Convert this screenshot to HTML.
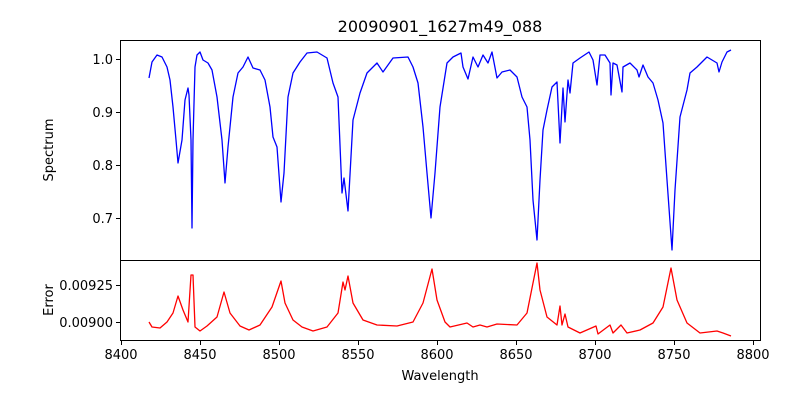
<!DOCTYPE html>
<html><head><style>body{margin:0;background:#fff}svg{display:block;font-family:"DejaVu Sans","Liberation Sans",sans-serif}</style></head><body>
<svg width="800" height="400" xmlns="http://www.w3.org/2000/svg">
<rect width="800" height="400" fill="#fff"/>
<text x="440" y="32" font-size="16" text-anchor="middle">20090901_1627m49_088</text>
<polyline fill="none" stroke="#0000ff" stroke-width="1.3" stroke-linejoin="round" points="149,78 152,62 157,55 162,57 167,67 170,80 173,107 176,140 178,163 182,140 185,100 188,88 189,95 191,140 192,228 193,140 195,67 197,55 200,52 203,60 208,63 212,70 217,97 222,140 225,183 228,147 233,97 238,73 243,67 248,57 253,68 260,70 265,80 270,107 273,137 277,147 281,202 284,173 288,97 293,73 300,62 307,53 317,52 327,58 333,83 338,97 342,193 344,178 348,211 353,120 360,93 367,73 377,63 383,72 393,58 408,57 413,67 418,83 423,127 427,173 431,218 435,173 440,107 447,63 453,57 461,53 463,67 468,79 473,57 478,67 483,55 488,63 492,52 497,78 502,72 510,70 517,77 522,97 527,107 530,140 533,200 537,240 540,180 543,130 547,110 552,87 557,82 560,143 563,88 565,122 568,80 570,93 573,63 580,58 589,52 593,60 597,85 600,55 605,55 610,63 611,95 613,63 617,65 622,92 623,67 630,63 637,70 639,77 643,65 648,77 653,83 658,100 663,123 667,180 672,250 675,190 680,117 687,90 690,73 697,67 707,57 712,60 717,63 719,72 722,62 727,52 731,50"/>
<polyline fill="none" stroke="#ff0000" stroke-width="1.3" stroke-linejoin="round" points="149,322 152,327 160,328 167,322 173,313 178,296 183,310 188,322 191,275 193,275 195,327 200,331 207,326 217,317 224,292 230,313 240,326 249,330 260,325 272,307 281,281 285,303 293,320 302,327 313,331 327,327 338,313 343,282 345,290 348,276 353,303 363,320 377,325 397,326 413,322 423,303 432,269 437,300 445,322 450,327 467,323 473,327 480,325 487,327 497,324 517,325 527,313 533,283 537,263 540,290 547,317 557,325 560,306 562,325 565,314 568,327 580,333 596,326 598,334 610,325 613,333 621,325 627,333 640,330 653,323 663,307 671,268 677,300 687,323 700,333 717,331 723,333 731,336"/>
<rect x="120.5" y="40.5" width="640" height="220" fill="none" stroke="#000" stroke-width="1"/>
<rect x="120.5" y="260.5" width="640" height="80" fill="none" stroke="#000" stroke-width="1"/>
<g stroke="#000" stroke-width="1">
<line x1="116" x2="120" y1="59.5" y2="59.5"/><line x1="116" x2="120" y1="112.5" y2="112.5"/><line x1="116" x2="120" y1="165.5" y2="165.5"/><line x1="116" x2="120" y1="218.5" y2="218.5"/>
<line x1="116" x2="120" y1="285.5" y2="285.5"/><line x1="116" x2="120" y1="322.5" y2="322.5"/>
<line x1="121.5" x2="121.5" y1="341" y2="345"/><line x1="200.5" x2="200.5" y1="341" y2="345"/><line x1="279.5" x2="279.5" y1="341" y2="345"/><line x1="358.5" x2="358.5" y1="341" y2="345"/><line x1="437.5" x2="437.5" y1="341" y2="345"/><line x1="516.5" x2="516.5" y1="341" y2="345"/><line x1="595.5" x2="595.5" y1="341" y2="345"/><line x1="674.5" x2="674.5" y1="341" y2="345"/><line x1="753.5" x2="753.5" y1="341" y2="345"/>
</g>
<g font-size="13" text-anchor="end">
<text x="113" y="64">1.0</text><text x="113" y="117">0.9</text><text x="113" y="170">0.8</text><text x="113" y="223">0.7</text>
<text x="113" y="290">0.00925</text><text x="113" y="327">0.00900</text>
</g>
<g font-size="13" text-anchor="middle">
<text x="121" y="359">8400</text><text x="200" y="359">8450</text><text x="279" y="359">8500</text><text x="358" y="359">8550</text><text x="437" y="359">8600</text><text x="516" y="359">8650</text><text x="595" y="359">8700</text><text x="674" y="359">8750</text><text x="753" y="359">8800</text>
<text x="440" y="380">Wavelength</text>
<text transform="translate(53,150) rotate(-90)">Spectrum</text>
<text transform="translate(53,300) rotate(-90)">Error</text>
</g>
</svg>
</body></html>
